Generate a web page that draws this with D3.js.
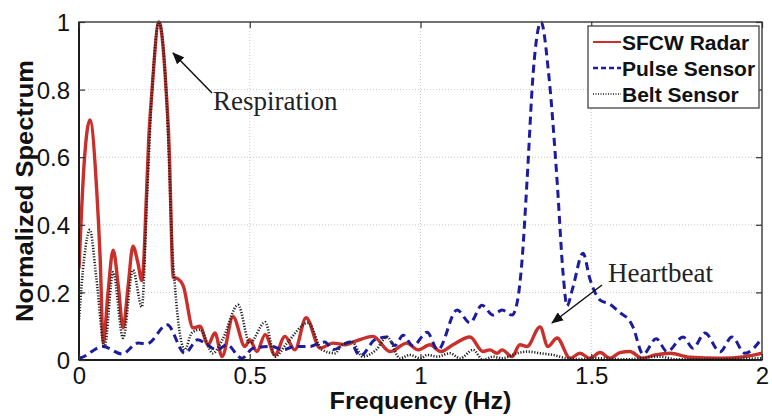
<!DOCTYPE html>
<html><head><meta charset="utf-8">
<script src="https://cdn.jsdelivr.net/npm/d3@7/dist/d3.min.js"></script>
<style>body{margin:0;background:#fff;} svg{display:block;}</style>
</head><body>
<svg id="chart" width="772" height="420"></svg>
<script>
// ---- data ----
const xTicks = [0, 0.5, 1, 1.5, 2];
const xTickLabels = ["0", "0.5", "1", "1.5", "2"];
const yTicks = [0, 0.2, 0.4, 0.6, 0.8, 1];
const yTickLabels = ["0", "0.2", "0.4", "0.6", "0.8", "1"];
const seriesNames = ["SFCW Radar", "Pulse Sensor", "Belt Sensor"];

const radarFreq = [0, 0.015, 0.032, 0.052, 0.062, 0.071, 0.085, 0.10, 0.115, 0.129, 0.144, 0.158, 0.172, 0.184, 0.19, 0.196, 0.204, 0.214, 0.234, 0.255, 0.265, 0.27, 0.275, 0.29, 0.305, 0.334, 0.354, 0.378, 0.398, 0.419, 0.451, 0.486, 0.50, 0.521, 0.545, 0.574, 0.603, 0.632, 0.665, 0.706, 0.744, 0.779, 0.808, 0.861, 0.911, 0.96, 0.993, 1.028, 1.06, 1.095, 1.145, 1.183, 1.203, 1.224, 1.239, 1.268, 1.291, 1.312, 1.35, 1.373, 1.40, 1.438, 1.467, 1.496, 1.526, 1.555, 1.584, 1.613, 1.649, 1.687, 1.731, 1.789, 1.877, 1.95, 2.0];
const radar = [0.27, 0.58, 0.71, 0.5, 0.3, 0.05, 0.2, 0.325, 0.22, 0.095, 0.22, 0.337, 0.29, 0.235, 0.3, 0.45, 0.65, 0.8, 1.0, 0.8, 0.6, 0.4, 0.245, 0.24, 0.22, 0.095, 0.10, 0.045, 0.08, 0.01, 0.128, 0.04, 0.06, 0.025, 0.075, 0.015, 0.07, 0.03, 0.125, 0.035, 0.05, 0.045, 0.055, 0.07, 0.025, 0.05, 0.03, 0.045, 0.025, 0.045, 0.068, 0.025, 0.03, 0.02, 0.03, 0.01, 0.045, 0.04, 0.098, 0.04, 0.065, 0.005, 0.02, 0.005, 0.022, 0.005, 0.022, 0.025, 0.005, 0.015, 0.02, 0.008, 0.005, 0.01, 0.02];

const pulseFreq = [0, 0.009, 0.07, 0.126, 0.173, 0.199, 0.258, 0.31, 0.348, 0.375, 0.404, 0.433, 0.477, 0.51, 0.565, 0.597, 0.632, 0.676, 0.697, 0.72, 0.744, 0.794, 0.823, 0.867, 0.902, 0.925, 0.949, 0.978, 1.019, 1.051, 1.107, 1.145, 1.18, 1.212, 1.239, 1.268, 1.283, 1.297, 1.312, 1.33, 1.353, 1.375, 1.40, 1.418, 1.429, 1.445, 1.476, 1.496, 1.526, 1.555, 1.584, 1.613, 1.622, 1.652, 1.69, 1.722, 1.769, 1.798, 1.833, 1.877, 1.912, 1.95, 2.0];
const pulse = [0.005, 0.008, 0.04, 0.018, 0.05, 0.048, 0.104, 0.02, 0.06, 0.045, 0.03, 0.045, 0.005, 0.035, 0.04, 0.03, 0.04, 0.04, 0.047, 0.053, 0.03, 0.053, 0.012, 0.06, 0.068, 0.043, 0.073, 0.042, 0.082, 0.03, 0.148, 0.11, 0.162, 0.133, 0.148, 0.133, 0.17, 0.29, 0.53, 0.85, 1.0, 0.85, 0.53, 0.25, 0.16, 0.21, 0.316, 0.24, 0.177, 0.165, 0.14, 0.115, 0.098, 0.017, 0.063, 0.025, 0.068, 0.035, 0.08, 0.024, 0.068, 0.02, 0.065];

const beltFreq = [0, 0.015, 0.032, 0.05, 0.075, 0.10, 0.129, 0.158, 0.184, 0.2, 0.214, 0.234, 0.255, 0.265, 0.272, 0.28, 0.29, 0.31, 0.33, 0.354, 0.392, 0.42, 0.466, 0.50, 0.545, 0.574, 0.609, 0.671, 0.712, 0.75, 0.77, 0.80, 0.83, 0.87, 0.902, 0.94, 0.969, 1.0, 1.02, 1.05, 1.086, 1.116, 1.154, 1.183, 1.212, 1.239, 1.283, 1.312, 1.35, 1.388, 1.429, 1.47, 1.52, 1.6, 1.701, 1.75, 2.0];
const belt = [0.12, 0.3, 0.385, 0.25, 0.04, 0.26, 0.065, 0.266, 0.157, 0.5, 0.8, 1.0, 0.8, 0.55, 0.35, 0.23, 0.12, 0.03, 0.08, 0.09, 0.02, 0.06, 0.163, 0.05, 0.112, 0.01, 0.05, 0.11, 0.03, 0.02, 0.045, 0.053, 0.01, 0.03, 0.068, 0.005, 0.015, 0.005, 0.015, 0.01, 0.02, 0.005, 0.03, 0.0, 0.01, 0.005, 0.02, 0.025, 0.02, 0.015, 0.005, 0.003, 0.005, 0.002, 0.01, 0.002, 0.005];

// ---- layout ----
const svg = d3.select("#chart");
const L = 79, R = 762, T = 22, B = 360;
const x = d3.scaleLinear().domain([0, 2]).range([L, R]);
const y = d3.scaleLinear().domain([0, 1]).range([B, T]);

// grid
const grid = svg.append("g");
grid.selectAll("line.vx").data(xTicks.slice(1, -1)).join("line")
  .attr("x1", d => x(d)).attr("x2", d => x(d)).attr("y1", T).attr("y2", B)
  .attr("stroke", "#c8c8c8").attr("stroke-width", 1).attr("stroke-dasharray", "1,2");
grid.selectAll("line.hy").data(yTicks.slice(1, -1)).join("line")
  .attr("y1", d => y(d)).attr("y2", d => y(d)).attr("x1", L).attr("x2", R)
  .attr("stroke", "#c8c8c8").attr("stroke-width", 1).attr("stroke-dasharray", "1,2");

// series
const clip = svg.append("clipPath").attr("id", "clip").append("rect")
  .attr("x", L).attr("y", T - 2).attr("width", R - L).attr("height", B - T + 2);
const line = d3.line().x(d => x(d[0])).y(d => y(d[1])).curve(d3.curveMonotoneX);
const plot = svg.append("g").attr("clip-path", "url(#clip)");
plot.append("path").datum(d3.zip(radarFreq, radar)).attr("d", line)
  .attr("fill", "none").attr("stroke", "#c8302c").attr("stroke-width", 3.4).attr("stroke-linejoin", "round");
plot.append("path").datum(d3.zip(pulseFreq, pulse)).attr("d", line)
  .attr("fill", "none").attr("stroke", "#1c1c9c").attr("stroke-width", 3).attr("stroke-dasharray", "8,5");
plot.append("path").datum(d3.zip(beltFreq, belt)).attr("d", line)
  .attr("fill", "none").attr("stroke", "#222").attr("stroke-width", 2.6).attr("stroke-dasharray", "1.2,1.6");

// frame
svg.append("rect").attr("x", L).attr("y", T).attr("width", R - L).attr("height", B - T)
  .attr("fill", "none").attr("stroke", "#444").attr("stroke-width", 1.5);
svg.append("line").attr("x1", L).attr("x2", R).attr("y1", B).attr("y2", B).attr("stroke", "#000").attr("stroke-width", 1.5);
svg.append("line").attr("x1", L).attr("x2", L).attr("y1", T).attr("y2", B).attr("stroke", "#000").attr("stroke-width", 1.5);

// axes with inward ticks
const xAxisB = d3.axisBottom(x).tickValues(xTicks).tickSize(-6).tickPadding(7).tickFormat((d, i) => xTickLabels[i]);
const gx = svg.append("g").attr("transform", `translate(0,${B})`).call(xAxisB);
const yAxisL = d3.axisLeft(y).tickValues(yTicks).tickSize(-6).tickPadding(9).tickFormat((d, i) => yTickLabels[i]);
const gy = svg.append("g").attr("transform", `translate(${L},0)`).call(yAxisL);
svg.append("g").attr("transform", `translate(0,${T})`).call(d3.axisTop(x).tickValues(xTicks).tickSize(-6).tickFormat(""));
svg.append("g").attr("transform", `translate(${R},0)`).call(d3.axisRight(y).tickValues(yTicks).tickSize(-6).tickFormat(""));
svg.selectAll(".domain").remove();
svg.selectAll(".tick line").attr("stroke", "#333").attr("stroke-width", 1.2);
svg.selectAll(".tick text").attr("font-family", "Liberation Sans, Arial, sans-serif")
  .attr("font-size", 24).attr("fill", "#111");
gx.selectAll(".tick text").attr("dy", "0.72em");
gy.selectAll(".tick text").attr("dy", "0.36em");

// axis labels
svg.append("text").attr("x", x(1)).attr("y", 409).attr("text-anchor", "middle")
  .attr("font-family", "Liberation Sans, Arial, sans-serif").attr("font-weight", "bold")
  .attr("font-size", 23).attr("fill", "#111")
  .attr("textLength", 182).attr("lengthAdjust", "spacingAndGlyphs")
  .text("Frequency (Hz)");
svg.append("text").attr("transform", `translate(33,${(T + B) / 2}) rotate(-90)`)
  .attr("text-anchor", "middle")
  .attr("font-family", "Liberation Sans, Arial, sans-serif").attr("font-weight", "bold")
  .attr("font-size", 24).attr("fill", "#111")
  .attr("textLength", 262).attr("lengthAdjust", "spacingAndGlyphs")
  .text("Normalized Spectrum");

// legend
const lg = svg.append("g");
lg.append("rect").attr("x", 588).attr("y", 26).attr("width", 171).attr("height", 82)
  .attr("fill", "#fff").attr("stroke", "#444").attr("stroke-width", 1.3);
const lgStyles = [
  {stroke: "#c8302c", w: 2, dash: null},
  {stroke: "#1c1c9c", w: 2.5, dash: "5,3"},
  {stroke: "#555", w: 2, dash: "1,1.5"}
];
seriesNames.forEach((name, i) => {
  const yy = 42 + i * 26;
  lg.append("line").attr("x1", 593).attr("x2", 621).attr("y1", yy).attr("y2", yy)
    .attr("stroke", lgStyles[i].stroke).attr("stroke-width", lgStyles[i].w)
    .attr("stroke-dasharray", lgStyles[i].dash);
  lg.append("text").attr("x", 622).attr("y", yy + 7.5)
    .attr("font-family", "Liberation Sans, Arial, sans-serif").attr("font-weight", "bold")
    .attr("font-size", 21).attr("fill", "#111").text(name);
});

// annotations
const defs = svg.append("defs");
defs.append("marker").attr("id", "arrow").attr("viewBox", "0 0 12 10").attr("refX", 11).attr("refY", 5)
  .attr("markerWidth", 12).attr("markerHeight", 10).attr("markerUnits", "userSpaceOnUse")
  .attr("orient", "auto").append("path").attr("d", "M0,0 L12,5 L0,10 Z").attr("fill", "#111");
svg.append("line").attr("x1", 212).attr("y1", 93).attr("x2", 173).attr("y2", 53)
  .attr("stroke", "#111").attr("stroke-width", 1.5).attr("marker-end", "url(#arrow)");
svg.append("text").attr("x", 213).attr("y", 110)
  .attr("font-family", "Liberation Serif, Times New Roman, serif").attr("font-size", 27).attr("fill", "#222")
  .text("Respiration");
svg.append("line").attr("x1", 602).attr("y1", 285).attr("x2", 552).attr("y2", 323)
  .attr("stroke", "#111").attr("stroke-width", 1.5).attr("marker-end", "url(#arrow)");
svg.append("text").attr("x", 608).attr("y", 282)
  .attr("font-family", "Liberation Serif, Times New Roman, serif").attr("font-size", 27).attr("fill", "#222")
  .text("Heartbeat");
</script>
</body></html>
